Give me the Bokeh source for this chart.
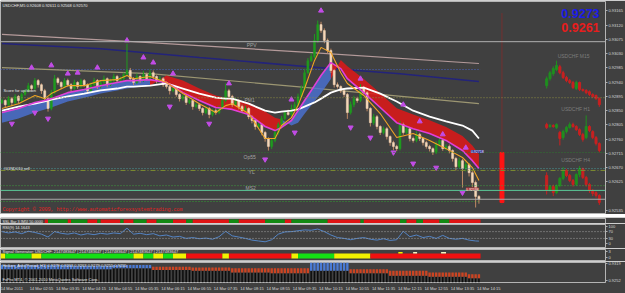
import numpy as np
from bokeh.plotting import figure
from bokeh.models import Range1d, FixedTicker, Label, PrintfTickFormatter, Span
from bokeh.layouts import column
from bokeh.embed import file_html
from bokeh.resources import INLINE

# ---------------- DATA ----------------
# USDCHF M5 closes, in 1e-5 price points (bar 0 = 14 Mar 02:10, bar 145 = 14:15)
close_pts = [92882, 92869, 92888, 92876, 92895, 92882, 92901, 92913, 92929, 92920,
             92945, 92932, 92913, 92888, 92857, 92907, 92951, 92939, 92926, 92945,
             92932, 92920, 92939, 92926, 92945, 92932, 92913, 92932, 92945, 92926,
             92939, 92951, 92932, 92945, 92958, 92945, 92951, 92964, 92977, 92951,
             92939, 92958, 92945, 92964, 92951, 92970, 92958, 92945, 92951, 92932,
             92926, 92913, 92920, 92901, 92888, 92895, 92876, 92882, 92863, 92869,
             92857, 92844, 92857, 92838, 92850, 92844, 92857, 92882, 92913, 92895,
             92869, 92882, 92863, 92850, 92857, 92831, 92819, 92800, 92806, 92781,
             92762, 92737, 92756, 92781, 92806, 92825, 92844, 92838, 92857, 92869,
             92895, 92920, 92970, 93008, 93021, 93072, 93122, 93103, 93072, 93040,
             92977, 92932, 92926, 92913, 92901, 92844, 92869, 92888, 92882, 92920,
             92907, 92857, 92812, 92831, 92800, 92781, 92793, 92768, 92749, 92737,
             92730, 92806, 92781, 92793, 92762, 92756, 92775, 92762, 92749, 92737,
             92730, 92718, 92743, 92756, 92730, 92737, 92724, 92699, 92673, 92692,
             92667, 92680, 92654, 92623, 92579, 92570]
first_open_pts = 92876
wick_hi_pts = [6, 4, 8, 5, 7, 4, 6, 5, 9, 4,
               8, 5, 4, 6, 5, 9, 12, 5, 4, 8,
               6, 5, 9, 4, 6, 5, 4, 7, 9, 5,
               6, 10, 4, 6, 9, 5, 7, 6, 85, 8,
               5, 9, 4, 12, 6, 10, 7, 4, 9, 5,
               10, 4, 8, 5, 4, 6, 5, 7, 4, 6,
               5, 4, 8, 5, 6, 7, 9, 12, 23, 6,
               5, 8, 4, 6, 9, 4, 5, 3, 6, 4,
               5, 4, 6, 9, 7, 8, 6, 9, 12, 8,
               9, 10, 12, 8, 11, 20, 13, 9, 7, 6,
               6, 5, 7, 4, 8, 5, 10, 9, 6, 14,
               8, 5, 4, 9, 5, 4, 7, 5, 4, 6,
               5, 12, 6, 9, 5, 6, 10, 5, 4, 6,
               5, 4, 10, 8, 5, 7, 6, 4, 5, 9,
               5, 8, 4, 5, 6, 4]
wick_lo_pts = [5, 9, 4, 12, 6, 8, 5, 4, 6, 7,
               5, 9, 10, 8, 10, 6, 4, 7, 8, 5,
               6, 9, 4, 7, 5, 6, 9, 4, 5, 8,
               6, 5, 8, 4, 6, 5, 4, 7, 6, 9,
               8, 5, 7, 4, 6, 5, 8, 9, 5, 7,
               6, 12, 5, 7, 9, 6, 8, 5, 10, 6,
               8, 9, 5, 12, 6, 7, 5, 4, 6, 8,
               7, 5, 9, 6, 5, 8, 9, 10, 6, 9,
               10, 13, 8, 6, 7, 5, 6, 4, 6, 5,
               5, 4, 6, 5, 4, 6, 8, 7, 9, 10,
               8, 9, 6, 7, 8, 20, 6, 8, 7, 5,
               6, 9, 12, 7, 9, 8, 6, 9, 10, 12,
               8, 6, 7, 5, 9, 7, 6, 8, 9, 7,
               9, 8, 5, 6, 7, 6, 9, 10, 12, 6,
               60, 9, 12, 15, 35, 14]

# moving averages sampled at bar indices (1e-5 points)
ma_idx = [0, 5, 10, 13, 15, 20, 25, 30, 35, 38, 40, 45, 50, 55, 60, 65, 68, 70, 75, 80,
          83, 85, 88, 90, 92, 95, 97, 100, 103, 105, 110, 115, 120, 125, 130, 135, 140, 143, 145]
ma_orange = [92857, 92872, 92898, 92888, 92904, 92929, 92929, 92945, 92948, 92961,
             92951, 92958, 92939, 92904, 92872, 92844, 92866, 92872, 92841, 92762,
             92762, 92803, 92828, 92866, 92920, 93008, 93050, 93034, 92970, 92936,
             92898, 92841, 92765, 92778, 92756, 92730, 92702, 92670, 92629]
ma_magenta = [92844, 92857, 92876, 92882, 92888, 92907, 92917, 92929, 92939, 92945,
              92945, 92948, 92939, 92907, 92882, 92860, 92857, 92854, 92838, 92800,
              92787, 92797, 92819, 92850, 92882, 92929, 92961, 93002, 92983, 92951,
              92907, 92860, 92812, 92793, 92778, 92756, 92724, 92692, 92667]
ma_white = [92850, 92863, 92872, 92879, 92885, 92895, 92904, 92914, 92920, 92926,
            92926, 92929, 92936, 92920, 92904, 92891, 92888, 92888, 92872, 92850,
            92844, 92847, 92850, 92854, 92863, 92876, 92888, 92907, 92917, 92920,
            92923, 92904, 92879, 92850, 92831, 92816, 92803, 92787, 92762]
ribbon_edge = [92812, 92825, 92844, 92854, 92860, 92879, 92891, 92904, 92914, 92920,
               92923, 92929, 92961, 92945, 92920, 92898, 92891, 92888, 92876, 92847,
               92828, 92822, 92803, 92812, 92840, 92880, 92905, 92950, 93010, 92990,
               92950, 92905, 92858, 92838, 92820, 92798, 92770, 92740, 92712]
# ribbon colour segments, as ranges of positions in ma_idx
ribbon_blue = [(0, 11), (21, 27)]
ribbon_red = [(11, 21), (27, 38)]

rosy_idx = [0, 45, 93, 145]
ma_rosy = [93091, 93065, 93034, 92999]
navy_idx = [0, 30, 60, 93, 121, 145]
ma_navy = [93062, 93046, 93018, 92989, 92967, 92942]
khaki_idx = [0, 45, 93, 145]
ma_khaki = [92986, 92967, 92923, 92872]

# fractal arrows (bar, price points)
up_bar = [9, 15, 20, 23, 29, 38, 43, 46, 52, 69, 88, 97, 109, 122, 127, 134, 141]
up_pts = [92986, 92993, 92967, 92970, 92986, 93072, 93018, 93002, 92967, 92936,
          92885, 93166, 92951, 92869, 92816, 92775, 92733]
dn_bar = [3, 10, 14, 51, 63, 80, 89, 106, 112, 119, 125, 132, 140]
dn_pts = [92809, 92844, 92825, 92863, 92809, 92696, 92781, 92797, 92765, 92718,
          92683, 92670, 92591]

# horizontal levels
lvl_ppv = 0.93068
lvl_blue = 0.92980
lvl_pm1 = 0.92891
lvl_op = 0.92718
lvl_sell = 0.92667
lvl_yl = 0.92661
lvl_ms2 = 0.92613
lvl_green = 0.92598
lvl_low_dot = 0.92563
bid = 0.92570
big_blue_text = "0.9273"
big_red_text = "0.9261"

# time marker (future bar) and its red bar
marker_bar = 152
marker_bar_top = 0.92718
marker_bar_bottom = 0.92560

# mini charts (M15, H1, H4), 1e-5 points
m15_open = [92929, 92951, 92967, 92980, 92989, 92970, 92955, 92945, 92939, 92920, 92939, 92917, 92914, 92910, 92901, 92898, 92888]
m15_close = [92951, 92970, 92983, 92993, 92970, 92955, 92945, 92939, 92923, 92939, 92917, 92914, 92907, 92901, 92895, 92888, 92869]
m15_high = [92958, 92976, 92990, 93008, 92995, 92976, 92960, 92950, 92944, 92945, 92942, 92920, 92918, 92914, 92905, 92901, 92892]
m15_low = [92920, 92945, 92960, 92975, 92965, 92950, 92940, 92934, 92918, 92915, 92912, 92910, 92902, 92896, 92890, 92884, 92862]
h1_open = [92806, 92800, 92803, 92797, 92781, 92765, 92784, 92797, 92806, 92800, 92790, 92775, 92765, 92800, 92784, 92765, 92746]
h1_close = [92797, 92803, 92800, 92806, 92762, 92784, 92797, 92806, 92800, 92790, 92775, 92759, 92800, 92787, 92765, 92746, 92724]
h1_high = [92812, 92808, 92807, 92810, 92786, 92790, 92802, 92813, 92812, 92804, 92794, 92780, 92835, 92804, 92788, 92770, 92750]
h1_low = [92792, 92796, 92796, 92792, 92740, 92758, 92778, 92793, 92796, 92786, 92770, 92752, 92760, 92782, 92760, 92740, 92718]
h4_open = [92645, 92598, 92610, 92591, 92613, 92636, 92661, 92645, 92629, 92617, 92648, 92667, 92639, 92617, 92598, 92591, 92582]
h4_close = [92598, 92610, 92591, 92613, 92636, 92661, 92645, 92629, 92617, 92648, 92667, 92639, 92617, 92598, 92588, 92582, 92560]
h4_high = [92655, 92614, 92616, 92617, 92640, 92672, 92666, 92650, 92634, 92652, 92675, 92670, 92644, 92622, 92602, 92595, 92586]
h4_low = [92585, 92594, 92580, 92586, 92608, 92630, 92640, 92624, 92610, 92612, 92640, 92634, 92610, 92590, 92580, 92575, 92552]

price_ticks = [0.93165, 0.93120, 0.93075, 0.93030, 0.92985, 0.92940, 0.92895, 0.92850,
               0.92805, 0.92760, 0.92715, 0.92670, 0.92625, 0.92535]

# SSL bar segments (bar from, bar to, colour code)
ssl_segments = [(13, 14, 'R'), (14, 20, 'G'), (20, 21, 'R'), (21, 26, 'G'), (26, 29, 'R'),
                (29, 30, 'G'), (30, 36, 'R'), (36, 37, 'G'), (37, 40, 'R'), (40, 44, 'G'),
                (44, 47, 'R'), (47, 52, 'G'), (52, 56, 'R'), (56, 58, 'G'), (58, 69, 'R'),
                (69, 72, 'G'), (72, 80, 'R'), (80, 86, 'G'), (86, 88, 'R'), (88, 99, 'G'),
                (99, 109, 'R'), (109, 110, 'G'), (110, 121, 'R'), (121, 123, 'G'),
                (123, 126, 'R'), (126, 128, 'G'), (128, 133, 'R'), (133, 136, 'G'),
                (136, 145.5, 'R')]

# RSI(9), every second bar plus the last bar
rsi_bar = list(range(0, 146, 2)) + [145]
rsi_val = [70, 62, 68, 58, 72, 65, 55, 38, 70, 60,
           55, 62, 50, 58, 52, 60, 55, 62, 58, 90,
           55, 60, 52, 58, 45, 50, 38, 42, 30, 35,
           28, 32, 25, 40, 72, 45, 38, 30, 20, 15,
           10, 22, 55, 68, 70, 75, 80, 78, 85, 70,
           50, 35, 30, 22, 30, 35, 25, 20, 28, 18,
           22, 72, 40, 50, 35, 42, 30, 48, 30, 25,
           30, 20, 15, 14.16]

# Signal generator segments
sig_segments = [(-0.5, 1, 'Y'), (1, 9, 'G'), (9, 12, 'Y'), (12, 40, 'G'), (40, 43, 'Y'),
                (43, 46, 'G'), (46, 49, 'Y'), (49, 52, 'G'), (52, 56, 'Y'), (56, 67, 'R'),
                (67, 69, 'Y'), (69, 88, 'R'), (88, 90, 'Y'), (90, 101, 'G'), (101, 112, 'Y'),
                (112, 145.5, 'R')]
sig_notches = [(120.5, 121.8, 'Y'), (125, 126.2, 'W'), (133.5, 135, 'W')]

# Heiken Ashi (H1) per hour 02..14: open / close
ha_open = [0.92956, 0.92956, 0.92956, 0.92989, 0.93056, 0.93023, 0.92989, 0.92989,
           0.92889, 0.92956, 0.92889, 0.92822, 0.92755]
ha_close = [0.93123, 0.93123, 0.93090, 0.93123, 0.92922, 0.92889, 0.92822, 0.92788,
            0.93224, 0.92788, 0.92688, 0.92654, 0.92587]

time_tick_bars = [3] + [12 + 8 * k for k in range(18)]
time_labels = ["14 Mar 2011", "14 Mar 02:55", "14 Mar 03:35", "14 Mar 04:15", "14 Mar 04:55",
               "14 Mar 05:35", "14 Mar 06:15", "14 Mar 06:55", "14 Mar 07:35", "14 Mar 08:15",
               "14 Mar 08:55", "14 Mar 09:35", "14 Mar 10:15", "14 Mar 10:55", "14 Mar 11:35",
               "14 Mar 12:15", "14 Mar 12:55", "14 Mar 13:35", "14 Mar 14:15"]

# ---------------- STYLE / LAYOUT ----------------
BG = "#404040"
W = 625
RB = 18
XR = Range1d(-0.45, 183.48)
FONT = "Liberation Sans"
OUT = "#b4b4b4"


def px_x(px):
    return (px - 1.5) / 3.3


def px_p(py):
    return (93198 - 3.16 * py) / 1e5


def mkfig(h, yr, top=1, bottom=1, yaxis=None, xaxis=None):
    p = figure(width=W, height=h, x_range=XR, y_range=yr, output_backend="svg",
               toolbar_location=None, title=None, x_axis_location=xaxis,
               y_axis_location=yaxis, min_border_left=0, min_border_right=RB,
               min_border_top=top, min_border_bottom=bottom,
               background_fill_color=BG, border_fill_color=BG,
               outline_line_color=OUT, outline_line_width=1)
    p.grid.visible = False
    return p


def style_axis(ax, ticks, fmt=None, overrides=None):
    ax.ticker = FixedTicker(ticks=ticks)
    if fmt:
        ax.formatter = PrintfTickFormatter(format=fmt)
    if overrides:
        ax.major_label_overrides = overrides
    ax.major_label_text_font_size = "4px"
    ax.major_label_text_font = FONT
    ax.major_label_text_color = "#d8d8d8"
    ax.axis_line_color = None
    ax.major_tick_line_color = "#b0b0b0"
    ax.major_tick_out = 2
    ax.major_tick_in = 0
    ax.minor_tick_line_color = None
    ax.major_label_standoff = 1


def txt(p, x, y, text, size="4px", color="#e8e8e8", font=FONT, align="left",
        bold=False, bg=None):
    p.add_layout(Label(x=x, y=y, text=text, text_font_size=size, text_color=color,
                       text_font=font, text_align=align, text_baseline="middle",
                       text_font_style="bold" if bold else "normal",
                       background_fill_color=bg))


# ---------------- MAIN PANEL ----------------
main = mkfig(214, Range1d(0.92525, 0.93195), yaxis="right")
style_axis(main.yaxis[0], price_ticks, fmt="%.5f")

X0, X1 = XR.start, XR.end
# levels
main.add_layout(Span(location=lvl_ppv, dimension="width", line_color="#b0b0b0", line_width=1))
main.segment(x0=[X0], y0=[lvl_blue], x1=[145.5], y1=[lvl_blue], line_color="#4a64c8", line_dash="1 2", line_width=1)
main.add_layout(Span(location=lvl_pm1, dimension="width", line_color="#8a8a40", line_dash="1 2", line_width=1))
main.add_layout(Span(location=lvl_op, dimension="width", line_color="#2f7a2f", line_dash="1 2", line_width=1))
main.add_layout(Span(location=lvl_sell, dimension="width", line_color="#4a9a9a", line_dash="1 2", line_width=1))
main.add_layout(Span(location=lvl_yl, dimension="width", line_color="#7c8a30", line_dash="5 2 1 2", line_width=1))
main.add_layout(Span(location=lvl_ms2, dimension="width", line_color="#40a040", line_dash="1 2", line_width=1))
main.add_layout(Span(location=lvl_green, dimension="width", line_color="#5ac896", line_width=1))
main.segment(x0=[X0], y0=[lvl_low_dot], x1=[145.5], y1=[lvl_low_dot], line_color="#30a030", line_dash="1 2", line_width=1)
main.add_layout(Span(location=bid, dimension="width", line_color="#a8a8a8", line_width=1))

# long moving averages
main.line(rosy_idx, np.array(ma_rosy) / 1e5, line_color="#b49a9a", line_width=1.2)
main.line(navy_idx, np.array(ma_navy) / 1e5, line_color="#23237a", line_width=1.5)
main.line(khaki_idx, np.array(ma_khaki) / 1e5, line_color="#9c9672", line_width=1.2)

# ribbon
mi = np.array(ma_idx)
mm = np.array(ma_magenta) / 1e5
me = np.array(ribbon_edge) / 1e5
for a, b in ribbon_blue:
    main.varea(x=mi[a:b + 1], y1=mm[a:b + 1], y2=me[a:b + 1], fill_color="#4a72d6", fill_alpha=0.8)
for a, b in ribbon_red:
    main.varea(x=mi[a:b + 1], y1=mm[a:b + 1], y2=me[a:b + 1], fill_color="#e01818", fill_alpha=0.85)

# candles
n = len(close_pts)
idx = np.arange(n)
close = np.array(close_pts) / 1e5
opens = np.array([first_open_pts] + close_pts[:-1]) / 1e5
hi = np.maximum(opens, close) + np.array(wick_hi_pts) / 1e5
lo = np.minimum(opens, close) - np.array(wick_lo_pts) / 1e5
bull = close >= opens
wick_col = np.where(bull, "#1f9a1f", "#c08a64")
body_col = np.where(bull, "#1f9a1f", "#f4d6b8")
main.segment(x0=idx, y0=lo, x1=idx, y1=hi, line_color=list(wick_col), line_width=1)
main.vbar(x=idx, top=np.maximum(opens, close), bottom=np.minimum(opens, close), width=0.62,
          fill_color=list(body_col), line_color=list(body_col), line_width=0.5)

# fast MAs
main.line(ma_idx, np.array(ma_white) / 1e5, line_color="#ffffff", line_width=1.8)
main.line(ma_idx, mm, line_color="#e040d8", line_width=1.6)
main.line(ma_idx, np.array(ma_orange) / 1e5, line_color="#f0a424", line_width=1.1)

# fractal arrows
main.scatter(up_bar, np.array(up_pts) / 1e5, marker="triangle", size=5,
             fill_color="#c24ce6", line_color="#c24ce6")
main.scatter(dn_bar, np.array(dn_pts) / 1e5, marker="inverted_triangle", size=5,
             fill_color="#c24ce6", line_color="#c24ce6")

# time marker
main.segment(x0=[marker_bar], y0=[px_p(13)], x1=[marker_bar], y1=[px_p(205)],
             line_color="#a82020", line_dash="1 1", line_width=1)
main.vbar(x=[marker_bar], top=[marker_bar_top], bottom=[marker_bar_bottom], width=1.2,
          fill_color="#ff1414", line_color="#ff1414")


# mini charts
def mini(o, c, h, l):
    o = np.array(o) / 1e5
    c = np.array(c) / 1e5
    h = np.array(h) / 1e5
    l = np.array(l) / 1e5
    xs = 165.6 + np.arange(len(o))
    up = c >= o
    col = list(np.where(up, "#1f8f1f", "#c82020"))
    main.segment(x0=xs, y0=l, x1=xs, y1=h, line_color=col, line_width=1)
    main.vbar(x=xs, top=np.maximum(o, c), bottom=np.minimum(o, c), width=0.6,
              fill_color=col, line_color=col)


mini(m15_open, m15_close, m15_high, m15_low)
mini(h1_open, h1_close, h1_high, h1_low)
mini(h4_open, h4_close, h4_high, h4_low)

# texts
txt(main, px_x(2), px_p(5), "USDCHF,M5  0.92608 0.92611 0.92568 0.92570")
txt(main, px_x(3), px_p(90), "Score for up/down")
txt(main, px_x(3), px_p(167.5), "#01ND010 sell")
for tx, ty, t in [(252, 44.5, "PPV"), (250, 99.5, "PM1"), (250, 156, "Op55"),
                  (252, 171, "YL"), (251, 187.5, "MS2")]:
    txt(main, px_x(tx), px_p(ty), t, size="5px", color="#a4a4a4", align="center")
txt(main, px_x(2), px_p(209), "Copyright © 2009, http://www.automaticforexsystemtrading.com",
    size="5px", color="#e42020", font="Liberation Mono")
txt(main, px_x(601), px_p(13), big_blue_text, size="12.5px", color="#1c1ce8", bold=True, align="right")
txt(main, px_x(601), px_p(26.5), big_red_text, size="12.5px", color="#e81c1c", bold=True, align="right")
for tx, ty, t in [(575, 55, "USDCHF M15"), (577, 108, "USDCHF H1"), (577, 159, "USDCHF H4")]:
    txt(main, px_x(tx), px_p(ty), t, size="5px", color="#7c7c7c", align="center")
txt(main, px_x(472), px_p(151), "0.92718", size="3.5px", color="#ffffff", bg="#2a2a8c")
txt(main, px_x(467), px_p(188.5), "0.92598", size="3.5px", color="#ffffff", bg="#a83030")
txt(main, 183.9, lvl_green, "0.92598", size="4px", color="#000000", bg="#20d060")
txt(main, 183.9, bid, "0.92570", size="4px", color="#000000", bg="#f0f0f0")

# ---------------- SSL BAR ----------------
ssl = mkfig(9, Range1d(0, 1))
ssl.quad(left=[s[0] for s in ssl_segments], right=[s[1] for s in ssl_segments],
         bottom=0.15, top=0.85,
         fill_color=["#e01414" if s[2] == 'R' else "#138a13" for s in ssl_segments],
         line_color=None)
txt(ssl, px_x(2), 0.5, "SSL Bar 3 [M5] 50.0000", size="3.8px")

# ---------------- RSI ----------------
rsi = mkfig(25, Range1d(-23.5, 111.8), yaxis="right")
style_axis(rsi.yaxis[0], [0, 30, 70, 100])
rsi.add_layout(Span(location=70, dimension="width", line_color="#a0a0a0", line_dash="1 2", line_width=1))
rsi.add_layout(Span(location=30, dimension="width", line_color="#a0a0a0", line_dash="1 2", line_width=1))
rsi.line(rsi_bar, rsi_val, line_color="#5484c4", line_width=1)
txt(rsi, px_x(2), 92, "RSI(9) 14.1643")

# ---------------- SIGNAL GENERATOR ----------------
sig = mkfig(13, Range1d(-1.5, 4), yaxis="right")
style_axis(sig.yaxis[0], [0, 3])
cmap = {'Y': "#f2f200", 'G': "#14e014", 'R': "#f01010", 'W': "#f4f4c0"}
sig.quad(left=[s[0] for s in sig_segments], right=[s[1] for s in sig_segments],
         bottom=-0.5, top=2, fill_color=[cmap[s[2]] for s in sig_segments], line_color=None)
sig.quad(left=[s[0] for s in sig_notches], right=[s[1] for s in sig_notches],
         bottom=2, top=2.8, fill_color=[cmap[s[2]] for s in sig_notches], line_color=None)
txt(sig, px_x(2), 3.0, "Signal Generator: USDCHF: 2147483647 | 2147483647 | 2147483647 | 2147483647 | 2147483647")

# ---------------- HEIKEN ASHI ----------------
ha_bottom = 0.924195
ha = mkfig(32, Range1d(ha_bottom, 0.932235), top=1, bottom=7, yaxis="right", xaxis="below")
style_axis(ha.yaxis[0], [0.9252, 0.9319], fmt="%.4f")
style_axis(ha.xaxis[0], time_tick_bars,
           overrides={t: s for t, s in zip(time_tick_bars, time_labels)})
ha.xaxis[0].major_tick_line_color = None
hour = (10 + 5 * idx) // 60
ho = np.array(ha_open)[hour]
hc = np.array(ha_close)[hour]
hlo = np.minimum(ho, hc)
hhi = np.maximum(ho, hc)
hcol = list(np.where(hc > ho, "#4a7ad4", "#cc4422"))
ha.vbar(x=idx, top=hlo, bottom=ha_bottom, width=0.45, fill_color="#0c0c0c", line_color=None)
ha.vbar(x=idx, top=hhi, bottom=hlo, width=0.72, fill_color=hcol, line_color=None)
txt(ha, px_x(2), 0.93090, "Heiken_Ashi(Period_H1) 0.9279 0.9263 0.9263 0.9279 0.9255 0.9255")
txt(ha, px_x(2), 0.92537, "FxPro MT4, © 2001-2010 MetaQuotes Software Corp.")

layout = column(main, ssl, rsi, sig, ha, spacing=0)
open("out.html", "w").write(file_html(layout, INLINE))
